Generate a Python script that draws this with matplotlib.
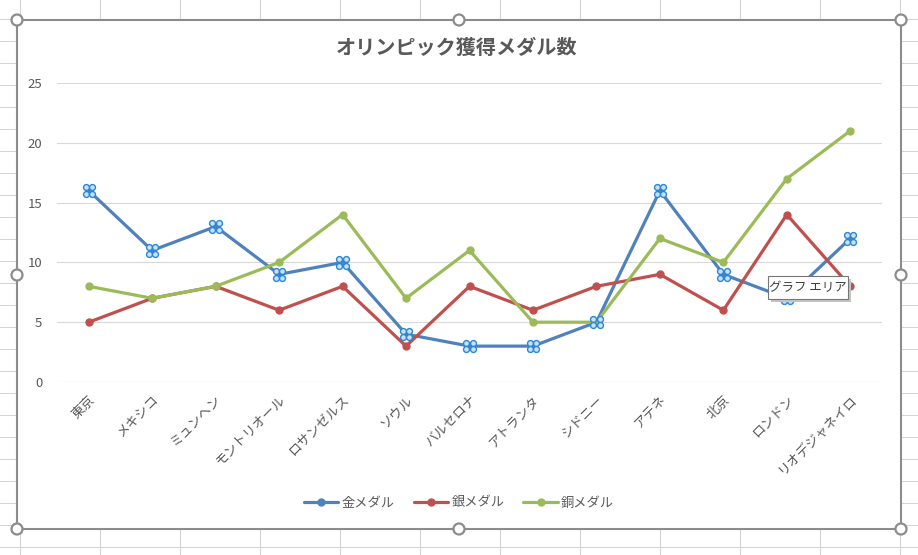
import matplotlib
matplotlib.use("Agg")
import matplotlib.pyplot as plt
from matplotlib.patches import Rectangle, Circle
from matplotlib.lines import Line2D
from matplotlib.transforms import ScaledTranslation

plt.rcParams['font.family'] = ['Noto Sans CJK JP', 'DejaVu Sans']

title = "オリンピック獲得メダル数"
cities = ["東京", "メキシコ", "ミュンヘン", "モントリオール", "ロサンゼルス", "ソウル",
          "バルセロナ", "アトランタ", "シドニー", "アテネ", "北京", "ロンドン", "リオデジャネイロ"]
gold = [16, 11, 13, 9, 10, 4, 3, 3, 5, 16, 9, 7, 12]
silver = [5, 7, 8, 6, 8, 3, 8, 6, 8, 9, 6, 14, 8]
bronze = [8, 7, 8, 10, 14, 7, 11, 5, 5, 12, 10, 17, 21]
series_names = ["金メダル", "銀メダル", "銅メダル"]
yticks = [0, 5, 10, 15, 20, 25]

W, H = 918, 555
fig = plt.figure(figsize=(W / 100, H / 100), dpi=100)
fig.patch.set_facecolor("white")

def fx(x):
    return x / W

def fy(y):
    return 1 - y / H

# spreadsheet grid background
gc = "#d4d4d4"
for xc in range(20, W + 1, 80):
    fig.add_artist(Line2D([fx(xc), fx(xc)], [0, 1], color=gc, lw=0.75, zorder=0))
for yr in range(19, H + 1, 22):
    fig.add_artist(Line2D([0, 1], [fy(yr), fy(yr)], color=gc, lw=0.75, zorder=0))

# chart area
L, T, R, B = 17, 20, 901, 529
fig.add_artist(Rectangle((fx(L), fy(B)), fx(R - L), (B - T) / H, facecolor="white",
                         edgecolor="#8c8c8c", lw=1.5, zorder=1, transform=fig.transFigure))

ax = fig.add_axes([fx(57), fy(382), fx(825), 299 / H])
ax.set_zorder(2)
ax.patch.set_alpha(0)

text_c = "#595959"
colors = ["#4F81BD", "#C0504D", "#9BBB59"]
x = list(range(len(cities)))
for vals, c, name in zip([gold, silver, bronze], colors, series_names):
    ax.plot(x, vals, color=c, lw=2.3, marker="o", ms=5, label=name,
            solid_capstyle="round", solid_joinstyle="round", zorder=3)

# selection handles on gold series
for dx, dy in [(-3.2, 3.2), (3.2, 3.2), (-3.2, -3.2), (3.2, -3.2)]:
    tr = ax.transData + ScaledTranslation(dx / 100, dy / 100, fig.dpi_scale_trans)
    ax.scatter(x, gold, s=18, facecolor="#c6e2f8", edgecolor="#2b86d6", lw=1.0,
               transform=tr, zorder=5, clip_on=False)

ax.set_xlim(-0.5, len(cities) - 0.5)
ax.set_ylim(0, 25)
ax.set_yticks(yticks)
ax.set_xticks(x)
ax.set_xticklabels(cities, rotation=45, ha="right", va="top", rotation_mode="anchor",
                   fontsize=10, color=text_c)
ax.tick_params(axis="both", length=0, colors=text_c, labelsize=9.5)
ax.tick_params(axis="x", pad=8)
ax.tick_params(axis="y", pad=10.5)
ax.grid(axis="y", color="#d9d9d9", lw=0.8)
ax.set_axisbelow(True)
for s in ax.spines.values():
    s.set_visible(False)

fig.text(fx(457), fy(47), title, ha="center", va="center", fontsize=14.5,
         fontweight="bold", color=text_c)

leg = fig.legend(loc="center", bbox_to_anchor=(fx(459), fy(503)), ncol=3, frameon=False,
                 fontsize=9.5, handlelength=2.6, handletextpad=0.25, columnspacing=1.45,
                 labelcolor=text_c)

# handles
for hx in (L, 459, R):
    for hy in (T, 275, B):
        if hx == 459 and hy == 275:
            continue
        fig.add_artist(Circle((hx, H - hy), 5.5, facecolor="white", edgecolor="#8c8c8c",
                              lw=1.6, zorder=6, transform=None))

# tooltip
bx0, by0, bx1, by1 = 768, 276, 848, 299
fig.add_artist(Rectangle((fx(bx0 + 3), fy(by1 + 3)), fx(bx1 - bx0), (by1 - by0) / H,
                         facecolor="#c4c4c4", edgecolor="none", zorder=7,
                         transform=fig.transFigure))
fig.add_artist(Rectangle((fx(bx0), fy(by1)), fx(bx1 - bx0), (by1 - by0) / H,
                         facecolor="white", edgecolor="#767676", lw=0.8, zorder=8,
                         transform=fig.transFigure))
fig.text(fx((bx0 + bx1) / 2), fy((by0 + by1) / 2), "グラフ エリア", ha="center", va="center",
         fontsize=9, color="#404040", zorder=9)

fig.savefig("out.png", dpi=100)
